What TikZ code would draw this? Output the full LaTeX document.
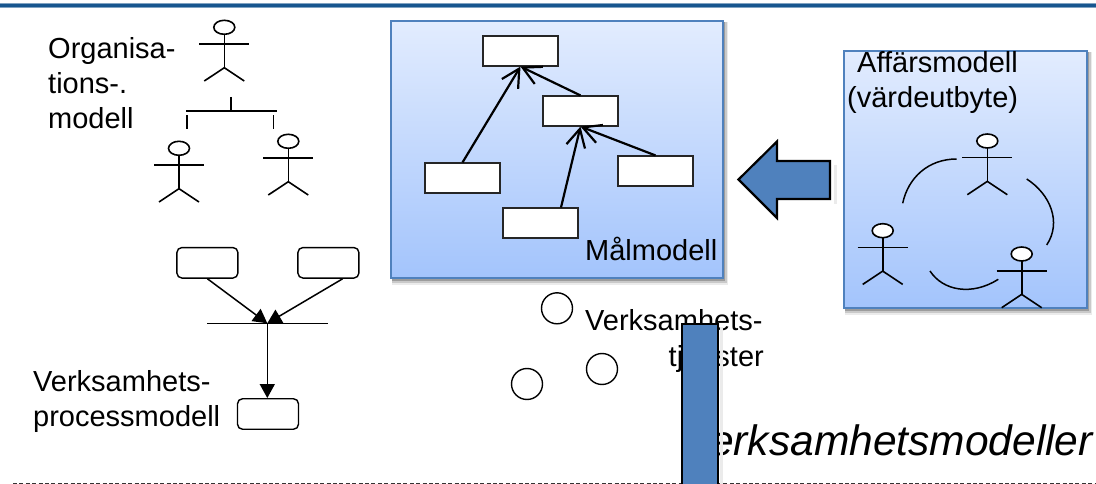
\documentclass[tikz,border=0pt]{standalone}
\usepackage{fontspec}
\setmainfont{Liberation Sans}
\usetikzlibrary{arrows.meta,calc}
\definecolor{boxedge}{HTML}{4F81BD}
\definecolor{boxtop}{HTML}{E2ECFE}
\definecolor{boxbot}{HTML}{A3C4FC}
\definecolor{rulecol}{HTML}{17568F}
\tikzset{
  x=1pt,y=-1pt,
  label/.style={anchor=base west,inner sep=0pt,font=\fontsize{29}{35}\selectfont},
  goalbox/.style={draw=black!85,line width=1.1pt,fill=white,minimum width=75pt,minimum height=30pt,inner sep=0pt},
  taskbox/.style={draw=black,line width=1.4pt,fill=white,rounded corners=5pt,minimum width=61pt,minimum height=30.5pt,inner sep=0pt},
  service/.style={circle,draw=black,line width=1.4pt,minimum size=31pt,inner sep=0pt},
  goalarrow/.style={line width=2.2pt,-{Straight Barb[length=18pt,width=19pt,line width=2.2pt]}},
  flowarrow/.style={line width=1.5pt,-{Triangle[length=14pt,width=15pt]}},
  thinline/.style={line width=1.6pt},
  actor/.pic={
    \draw[line width=1.6pt,fill=white] (0,0) ellipse [x radius=10.5pt,y radius=7pt];
    \draw[line width=1.6pt] (-25,16.7) -- (25,16.7);
    \draw[line width=1.6pt] (0,7) -- (0,40.4);
    \draw[line width=1.6pt] (-20,53.7) -- (0,40.4) -- (20,53.7);
  }
}
\newcommand{\softshadow}[4]{%
  \fill[black,opacity=.08] (#1+1,#2+1) rectangle (#3+5,#4+7);
  \fill[black,opacity=.14] (#1+1,#2+1) rectangle (#3+3.5,#4+5);
  \fill[black,opacity=.22] (#1+1,#2+1) rectangle (#3+2,#4+3);
}
\begin{document}
\begin{tikzpicture}
\useasboundingbox (0,0) rectangle (1096,484);
\fill[white] (0,0) rectangle (1096,484);
% top rule
\fill[rulecol!55] (0,3.5) rectangle (1096,7.8);
\fill[rulecol] (0,4.3) rectangle (1096,7.2);
% bottom dashed line
\draw[black!80,line width=.9pt,dash pattern=on 4pt off 2.4pt] (13,483) -- (1096,483);

% ---- organisation model
\node[label] (orgA) at (48,59) {Organisa-};
\node[label] (orgB) at (48,94) {tions-.};
\node[label] (orgC) at (48,129) {modell};
\pic at (224.3,27.3) {actor};
\pic at (179,148.3) {actor};
\pic at (288.3,141.3) {actor};
\draw[thinline] (231,97) -- (231,111.3);
\draw[thinline] (186,111.3) -- (276.7,111.3);
\draw[thinline] (187,115.5) -- (187,129);
\draw[thinline] (273.3,115.5) -- (273.3,129);

% ---- process model
\node[taskbox] (t1) at (207.4,262.8) {};
\node[taskbox] (t2) at (328.4,262.8) {};
\node[taskbox] (t3) at (268,414) {};
\coordinate (join) at (267.3,323.3);
\draw[thinline] (207.3,323.3) -- (328,323.3);
\draw[flowarrow] (t1.south) -- (join);
\draw[flowarrow] ($(t2.south)+(14.3,0)$) -- (join);
\draw[flowarrow] (join) -- (join |- t3.north);
\node[label] (procA) at (33,391.7) {Verksamhets-};
\node[label] (procB) at (33,426.7) {processmodell};

% ---- goal model
\softshadow{391}{21}{723}{278}
\draw[boxedge,line width=1.5pt,top color=boxtop,bottom color=boxbot] (391,21) rectangle (723,278);
\node[goalbox] (gA) at (520.5,51) {};
\node[goalbox] (gB) at (580.5,111) {};
\node[goalbox] (gC) at (462.5,178) {};
\node[goalbox] (gD) at (655.5,171) {};
\node[goalbox] (gE) at (540.5,223) {};
\draw[goalarrow] (gC.north) -- (gA.south);
\draw[goalarrow] (gB.north) -- (gA.south);
\draw[goalarrow] ($(gE.north)+(20.5,0)$) -- (gB.south);
\draw[goalarrow] (gD.north) -- (gB.south);
\node[label] (goalT) at (585,260) {Målmodell};

% ---- business model
\softshadow{844}{51}{1087}{308}
\draw[boxedge,line width=1.5pt,top color=boxtop,bottom color=boxbot] (844,51) rectangle (1087,308);
\node[label] (busA) at (857,73) {Affärsmodell};
\node[label] (busB) at (847,108) {(värdeutbyte)};
\pic at (987.3,141) {actor};
\pic at (882.7,230.7) {actor};
\pic at (1021.7,254) {actor};
\draw[line width=1.5pt] (902.7,203.3) .. controls (908,178) and (928,159) .. (956.7,159);
\draw[line width=1.5pt] (1026.7,179) .. controls (1050,194) and (1062,222) .. (1046.7,245);
\draw[line width=1.5pt] (930,271) .. controls (943,291) and (972,296) .. (998.3,279.3);

% ---- big arrow
\fill[black!8] (834,165) rectangle (837,204);
\draw[black,line width=2.2pt,fill=boxedge,line join=miter]
  (738.5,179.5) -- (777,141.5) -- (777,161) -- (830,161) -- (830,199) -- (777,199) -- (777,218) -- cycle;

% ---- services
\node[service] (s1) at (557,308.3) {};
\node[service] (s2) at (602,369) {};
\node[service] (s3) at (527,384) {};
\node[label] (svcA) at (585,330) {Verksamhets-};
\node[label,anchor=base east] (svcB) at (764,366.7) {tjänster};

% ---- title and covering bar
\node[anchor=base east,inner sep=0pt,font=\fontsize{42.5}{48}\selectfont\itshape] (title) at (1093,455) {Verksamhetsmodeller};
\fill[black!8] (720,327) rectangle (723,484);
\draw[black,line width=2.2pt,fill=boxedge] (682,324) rectangle (718,486);
\end{tikzpicture}
\end{document}
